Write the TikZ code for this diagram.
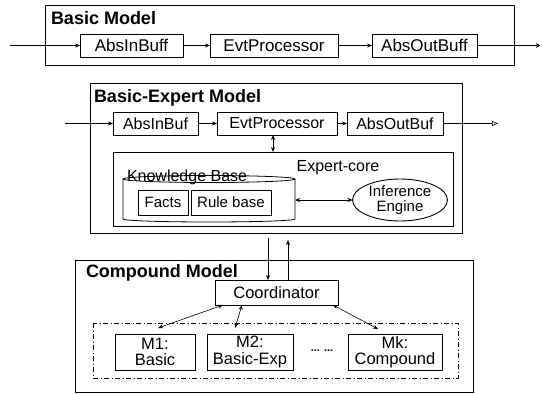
\documentclass[tikz,border=0pt]{standalone}
\usepackage{fontspec}
\setmainfont{Liberation Sans}
\usetikzlibrary{arrows.meta,shapes.geometric}

\begin{document}
\begin{tikzpicture}[x=1pt,y=-1pt,
  every node/.style={inner sep=0pt,outer sep=0pt},
  frame/.style={draw,line width=0.8pt},
  title/.style={anchor=base west,font=\fontsize{18}{20}\selectfont\bfseries},
  blk/.style={draw,line width=0.9pt,font=\fontsize{#1}{#1}\selectfont,align=center},
  blk/.default=16,
  tip/.style={-{Stealth[length=5pt,width=4pt]},line width=0.6pt},
  dtip/.style={{Stealth[length=5pt,width=4pt]}-{Stealth[length=5pt,width=4pt]},line width=0.6pt},
]
\useasboundingbox (0,0) rectangle (542,394);

% ---------------- Basic Model ----------------
\node[frame,minimum width=469,minimum height=60] (basic) at (279.5,35) {};
\node[title] (basicT) at (51,24) {Basic Model};
\node[blk=17,minimum width=103,minimum height=23] (ain) at (131.5,45.5) {AbsInBuff};
\node[blk=17,minimum width=128,minimum height=23] (evt) at (274,45.5) {EvtProcessor};
\node[blk=17,minimum width=105,minimum height=23] (aout) at (424.5,45.5) {AbsOutBuff};
\coordinate (bin) at (10,45.5);
\coordinate (bout) at (540,45.5);
\draw[tip] (bin) -- (ain);
\draw[tip] (ain) -- (evt);
\draw[tip] (evt) -- (aout);
\draw[-{Stealth[length=4pt,width=5pt]},line width=0.6pt] (aout) -- (bout);

% ---------------- Basic-Expert Model ----------------
\node[frame,minimum width=372,minimum height=150] (bexp) at (276,158) {};
\node[title] (bexpT) at (94,102) {Basic-Expert Model};
\node[blk=16,minimum width=85,minimum height=23] (ain2) at (155.5,123.5) {AbsInBuf};
\node[blk=16,minimum width=120,minimum height=23] (evt2) at (277,123.5) {EvtProcessor};
\node[blk=16,minimum width=96,minimum height=23] (aout2) at (395,123.5) {AbsOutBuf};
\coordinate (ein) at (65,123.5);
\coordinate (eout) at (498,123.5);
\draw[tip] (ein) -- (ain2);
\draw[tip] (ain2) -- (evt2);
\draw[tip] (evt2) -- (aout2);
\draw[-{Triangle[open,length=6pt,width=5pt]},line width=0.6pt] (aout2) -- (eout);

% Expert core
\node[frame,minimum width=340,minimum height=74] (core) at (283,189) {};
\node[font=\fontsize{16}{16}\selectfont] (coreT) at (338,168) {Expert-core};
\draw[dtip] ([xshift=-4pt]evt2.south) -- ([xshift=-4pt]evt2.south |- core.north);

% Knowledge base drum, its label crossed by the drum's top rim
\node[minimum width=172,minimum height=44] (kb) at (209,200) {};
\node[anchor=base west,font=\fontsize{16}{16}\selectfont] (kbT) at (127,181) {Knowledge Base};
\draw[line width=0.8pt]
  (209,179) ellipse [x radius=86pt,y radius=3.5pt]
  (123,179) -- (123,219) arc[start angle=180,end angle=360,x radius=86pt,y radius=3pt]
  -- (295,179);
\node[blk=15,minimum width=50,minimum height=25] (facts) at (163,202.5) {Facts};
\node[blk=15,minimum width=80,minimum height=25] (rules) at (231,202.5) {Rule base};
\node[draw,ellipse,line width=0.9pt,minimum width=95,minimum height=42,
      align=center,font=\fontsize{15}{15}\selectfont] (ie) at (400,200) {Inference\\Engine};
\draw[dtip] (kb.east) -- (ie.west);

% ---------------- Compound Model ----------------
\node[frame,minimum width=398,minimum height=132] (comp) at (274,326) {};
\node[title] (compT) at (86,277) {Compound Model};
\node[blk=16.5,minimum width=123,minimum height=25] (coord) at (276.5,292.5) {Coordinator};
\coordinate (cin) at (268,238);
\coordinate (cout) at (288,240);
\draw[tip] (cin) -- (cin |- coord.north);
\draw[tip] (cout |- coord.north) -- (cout);

% component models
\draw[line width=0.8pt,dash pattern=on 5pt off 2.5pt on 1pt off 2.5pt] (93,323) rectangle (458,378);
\node[blk=16.5,minimum width=80,minimum height=36] (m1) at (155,352) {M1:\\Basic};
\node[blk=16.5,minimum width=86,minimum height=36] (m2) at (250,352) {M2:\\Basic-Exp};
\node[blk=16.5,minimum width=94,minimum height=36] (mk) at (395,352) {Mk:\\Compound};
\node[font=\fontsize{11}{11}\selectfont\bfseries] (dots) at (322,351) {... ...};
\draw[dtip] ([xshift=8pt]coord.south west) -- ([xshift=3pt,yshift=6pt]m1.north);
\draw[dtip] ([xshift=27pt]coord.south west) -- ([xshift=-15pt,yshift=6pt]m2.north);
\draw[dtip] ([xshift=-5pt]coord.south east) -- ([xshift=-17pt,yshift=5pt]mk.north);
\end{tikzpicture}
\end{document}
